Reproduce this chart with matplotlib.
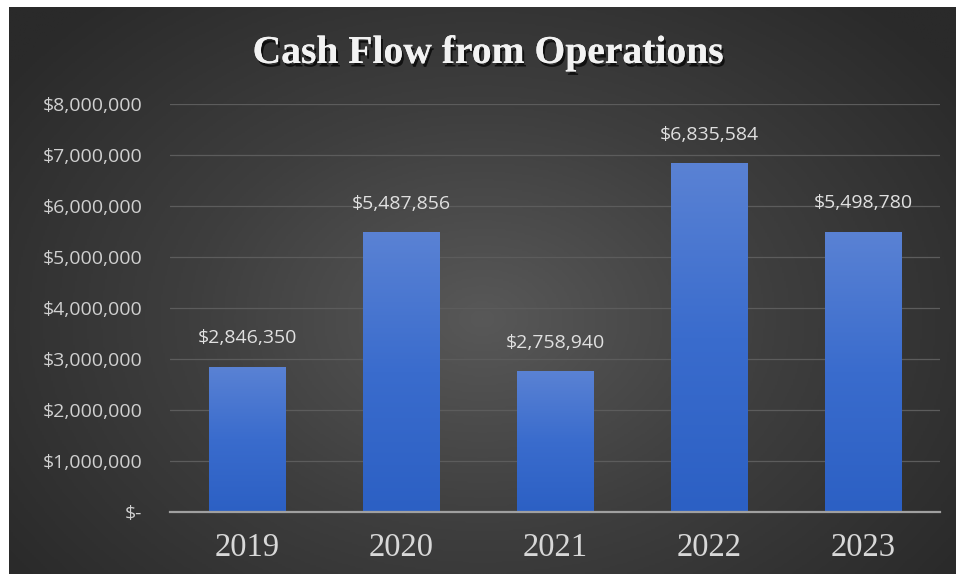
import numpy as np
import matplotlib
matplotlib.use("Agg")
import matplotlib.pyplot as plt
import matplotlib.patheffects as pe
from matplotlib.colors import LinearSegmentedColormap
from matplotlib.ticker import FuncFormatter, MultipleLocator

years = ["2019", "2020", "2021", "2022", "2023"]
cash_flow = [2846350, 5487856, 2758940, 6835584, 5498780]
title = "Cash Flow from Operations"

W, H = 956, 575
fig = plt.figure(figsize=(W / 100, H / 100), dpi=100)
fig.patch.set_facecolor("white")

# background radial gradient
bg = fig.add_axes([9 / W, 1 / H, (W - 9) / W, (H - 8) / H])
bg.set_axis_off()
yy, xx = np.mgrid[0:1:300j, 0:1:500j]
r = np.sqrt(((xx - 0.5) / 0.62) ** 2 + ((yy - 0.55) / 0.75) ** 2)
r = np.clip(r, 0, 1)
bg_cmap = LinearSegmentedColormap.from_list("bg", ["#585858", "#3e3e3e", "#2a2a2a"])
bg.imshow(r, cmap=bg_cmap, aspect="auto", extent=[0, 1, 0, 1], vmin=0, vmax=1)
bg.set_xlim(0, 1)
bg.set_ylim(0, 1)

ax = fig.add_axes([170 / W, 1 - 512 / H, 770 / W, (512 - 104) / H])
ax.set_facecolor("none")
x = np.arange(len(years))
bars = ax.bar(x, cash_flow, width=0.5, color="#3f6fcf", zorder=2)

bar_cmap = LinearSegmentedColormap.from_list("bar", ["#2c60c4", "#3a6ccd", "#5a82d4"])
grad = np.linspace(0, 1, 256).reshape(-1, 1)
for b in bars:
    x0, y0, w, h = b.get_x(), b.get_y(), b.get_width(), b.get_height()
    im = ax.imshow(grad, cmap=bar_cmap, aspect="auto", origin="lower",
                   extent=[x0, x0 + w, y0, y0 + h], zorder=3)
    im.set_clip_path(b)
ax.set_aspect("auto")
ax.set_xlim(-0.5, len(years) - 0.5)
ax.set_ylim(0, 8000000)

ax.yaxis.set_major_locator(MultipleLocator(1000000))
ax.yaxis.set_major_formatter(FuncFormatter(lambda v, p: "$-" if v == 0 else f"${v:,.0f}"))
ax.grid(axis="y", color="#5c5c5c", linewidth=0.9, zorder=1)
ax.set_axisbelow(True)
for s in ["top", "right", "left"]:
    ax.spines[s].set_visible(False)
ax.spines["bottom"].set_color("#a0a0a0")
ax.spines["bottom"].set_linewidth(1.6)
ax.spines["bottom"].set_zorder(5)
ax.tick_params(axis="y", length=0, pad=20, labelsize=14, labelcolor="#d0d0d0")
ax.tick_params(axis="x", length=0, pad=15, labelsize=23.5, labelcolor="#d8d8d8")
ax.set_xticks(x)
ax.set_xticklabels(years, fontfamily="Liberation Serif")
for lab in ax.get_yticklabels():
    lab.set_fontfamily("Open Sans")

for xi, v in zip(x, cash_flow):
    ax.annotate(f"${v:,.0f}", (xi, v), xytext=(0, 20.5), textcoords="offset points",
                ha="center", va="center", fontsize=14, color="#e0e0e0",
                fontfamily="Open Sans", zorder=6)

fig.text(488 / W, 1 - 63 / H, title, ha="center", va="baseline",
         fontsize=28.5, fontweight="bold", fontfamily="Liberation Serif", color="#f2f2f2",
         path_effects=[pe.withSimplePatchShadow(offset=(1.5, -2.5), shadow_rgbFace="black", alpha=0.7), pe.Normal()])

fig.savefig("out.png", dpi=100, facecolor=fig.get_facecolor())
